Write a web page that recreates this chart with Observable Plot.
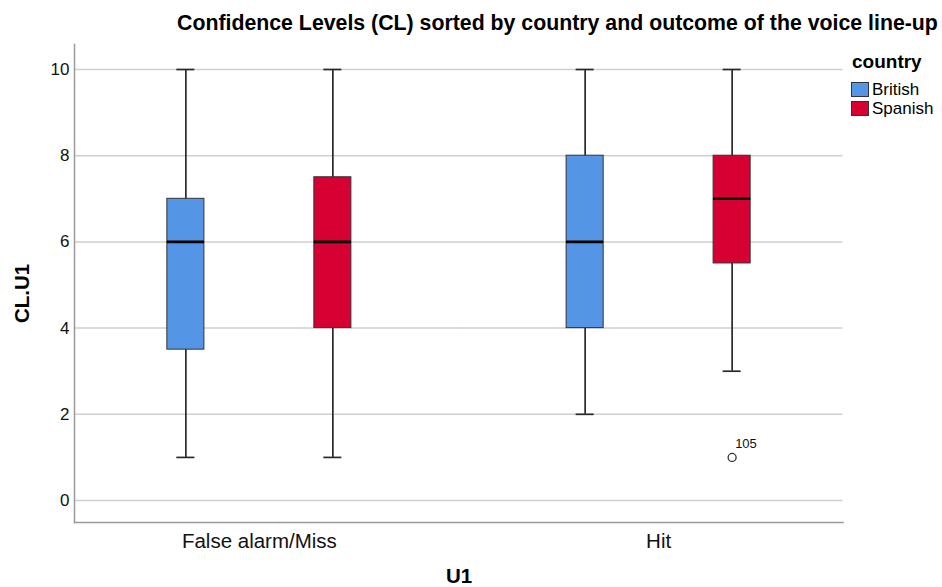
<!DOCTYPE html>
<html><head><meta charset="utf-8">
<script src="https://cdn.jsdelivr.net/npm/d3@7"></script>
<script src="https://cdn.jsdelivr.net/npm/@observablehq/plot@0.6"></script>
<style>
body{margin:0;background:#fff;font-family:"Liberation Sans",Arial,sans-serif;color:#000;}
#wrap{position:relative;width:942px;height:587px;overflow:hidden;background:#fff;}
#title{height:40px;position:relative;}
#title span{position:absolute;left:177px;top:13px;font-size:21.3px;line-height:21px;font-weight:bold;white-space:nowrap;}
.leg{position:absolute;white-space:nowrap;}
.sw{position:absolute;width:16px;height:13px;border:1px solid #333;}
</style></head><body>
<div id="wrap">
  <div id="title"><span>Confidence Levels (CL) sorted by country and outcome of the voice line-up</span></div>
  <div id="chart"></div>
  <div id="legend"></div>
</div>
<script>
// ---- data ----
const categories = ["False alarm/Miss", "Hit"];
const countryDomain = ["British", "Spanish"];
const outcomes  = ["False alarm/Miss", "False alarm/Miss", "Hit", "Hit"];
const countries = ["British", "Spanish", "British", "Spanish"];
const mins    = [1, 1, 2, 3];
const q1s     = [3.5, 4, 4, 5.5];
const medians = [6, 6, 6, 7];
const q3s     = [7, 7.5, 8, 8];
const maxs    = [10, 10, 10, 10];
const outlierOutcomes  = ["Hit"];
const outlierCountries = ["Spanish"];
const outlierValues    = [1];
const outlierLabels    = ["105"];
const yTicks = [0, 2, 4, 6, 8, 10];
const countryColors = ["#5595E5", "#D60032"];

const rows = outcomes.map((o, i) => ({outcome: o, country: countries[i], min: mins[i], q1: q1s[i], median: medians[i], q3: q3s[i], max: maxs[i]}));
const outliers = outlierValues.map((v, i) => ({outcome: outlierOutcomes[i], country: outlierCountries[i], value: v, label: outlierLabels[i]}));
const gridA = yTicks.map(v => ({outcome: categories[0], v}));
const gridB = yTicks.map(v => ({outcome: categories[1], v}));

const font = '"Liberation Sans", Arial, sans-serif';
const chart = Plot.plot({
  width: 942, height: 547,
  marginLeft: 74, marginRight: 99, marginTop: 4, marginBottom: 65,
  style: {fontFamily: font, fontSize: "16px", background: "white", color: "#000"},
  fx: {domain: categories, paddingInner: 0.3, paddingOuter: 0.113, round: false, label: null},
  x: {domain: countryDomain, paddingInner: 0.748, paddingOuter: 0.3247, round: false, axis: null},
  y: {domain: [-0.51, 10.58], axis: null},
  color: {domain: countryDomain, range: countryColors},
  marks: [
    Plot.ruleY(gridA, {fx: "outcome", y: "v", stroke: "#cfcfcf", strokeWidth: 1.5, insetLeft: -45.1, insetRight: -60.1}),
    Plot.ruleY(gridB, {fx: "outcome", y: "v", stroke: "#cfcfcf", strokeWidth: 1.5, insetLeft: -60.1, insetRight: -44.6}),
    Plot.frame({anchor: "left", facet: "super", stroke: "#9a9a9a", strokeWidth: 1.5, insetLeft: -45.1, insetRight: -44.6}),
    Plot.frame({anchor: "bottom", facet: "super", stroke: "#9a9a9a", strokeWidth: 1.5, insetLeft: -45.1, insetRight: -44.6}),
    Plot.axisY({ticks: yTicks, tickSize: 0, tickPadding: 5, dx: -45.1, fontSize: 17, label: null, fill: "#111"}),
    Plot.axisFx({anchor: "bottom", tickSize: 0, tickPadding: 10.8, fontSize: 20.5, label: null, fill: "#111"}),
    Plot.ruleX(rows, {fx: "outcome", x: "country", y1: "min", y2: "max", stroke: "#2a2a2a", strokeWidth: 1.7}),
    Plot.tickY(rows, {fx: "outcome", x: "country", y: "min", stroke: "#2a2a2a", strokeWidth: 1.7, insetLeft: 9.5, insetRight: 9.5}),
    Plot.tickY(rows, {fx: "outcome", x: "country", y: "max", stroke: "#2a2a2a", strokeWidth: 1.7, insetLeft: 9.5, insetRight: 9.5}),
    Plot.barY(rows, {fx: "outcome", x: "country", y1: "q1", y2: "q3", fill: "country", stroke: "#333", strokeWidth: 1}),
    Plot.tickY(rows, {fx: "outcome", x: "country", y: "median", stroke: "#000", strokeWidth: 2.6}),
    Plot.dot(outliers, {fx: "outcome", x: "country", y: "value", r: 4, stroke: "#333", fill: "white", strokeWidth: 1.3}),
    Plot.text(outliers, {fx: "outcome", x: "country", y: "value", text: "label", textAnchor: "start", dx: 3, dy: -14, fontSize: 13, fill: "#111"}),
    Plot.text(["U1"], {text: d => d, facet: "super", frameAnchor: "bottom", lineAnchor: "bottom", dy: 60, fontWeight: "bold", fontSize: 20.5, fill: "#000"}),
    Plot.text(["CL.U1"], {text: d => d, facet: "super", frameAnchor: "left", textAnchor: "middle", lineAnchor: "middle", rotate: -90, dx: -97, dy: 10, fontWeight: "bold", fontSize: 20.5, fill: "#000"})
  ]
});
document.getElementById("chart").append(chart);

// ---- legend (HTML, from the plot's color scale) ----
const cs = chart.scale("color");
const leg = document.getElementById("legend");
const t = document.createElement("div");
t.className = "leg";
t.style.cssText = "left:852px;top:52px;font-size:19px;line-height:19px;font-weight:bold;";
t.textContent = "country";
leg.append(t);
cs.domain.forEach((d, i) => {
  const top = 82 + i * 19;
  const sw = document.createElement("div");
  sw.className = "sw";
  sw.style.left = "851px";
  sw.style.top = top + "px";
  sw.style.background = cs.apply(d);
  leg.append(sw);
  const lab = document.createElement("div");
  lab.className = "leg";
  lab.style.cssText = `left:872px;top:${top - 1}px;font-size:17px;line-height:17px;`;
  lab.textContent = d;
  leg.append(lab);
});
</script>
</body></html>
